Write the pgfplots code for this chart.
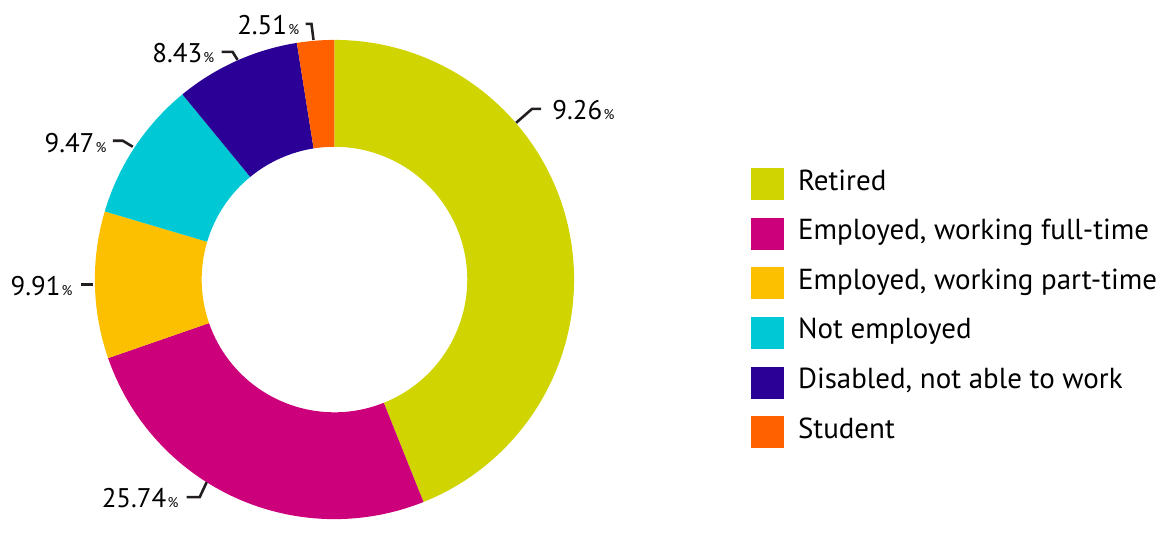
\documentclass[border=0pt]{standalone}
\usepackage{pgfplots}
\pgfplotsset{compat=1.18}
\usepackage{pgfplotstable}
\usepackage{fontspec}
\setmainfont{PT Sans}

\definecolor{cRet}{RGB}{208,212,0}
\definecolor{cFull}{RGB}{204,0,122}
\definecolor{cPart}{RGB}{253,192,0}
\definecolor{cNot}{RGB}{0,200,212}
\definecolor{cDis}{RGB}{42,0,150}
\definecolor{cStu}{RGB}{255,96,0}
\definecolor{ink}{RGB}{35,31,32}

% shares in percent, clockwise from 12 o'clock
\pgfplotstableread{
value color
43.94 cRet
25.74 cFull
9.91  cPart
9.47  cNot
8.43  cDis
2.51  cStu
}\shares

\newcommand{\pct}[1]{#1{\fontsize{7}{7}\selectfont\kern0.6pt\%}}

\begin{document}
\begin{tikzpicture}[font=\color{ink}]
\begin{axis}[
    x=0.5pt, y=0.5pt,
    xmin=0, xmax=1164, ymin=0, ymax=519,
    hide axis, clip=false,
    legend cell align=left,
    legend image code/.code={\path[#1] (0pt,-8pt) rectangle (16.5pt,8pt);},
    legend style={
        at={(axis cs:752,351)}, anchor=north west,
        draw=none, fill=none, inner sep=0pt,
        font=\fontsize{14.5}{14.5}\selectfont,
        row sep=8.85pt,
        nodes={inner ysep=0pt, inner xsep=3.5pt, text height=11pt, text depth=5pt},
        /tikz/every odd column/.append style={column sep=3.5pt},
    },
]
\path (axis cs:0,0) rectangle (axis cs:1164,519);
\coordinate (O) at (axis cs:335,239);

\def\cum{0}
\pgfplotsforeachungrouped \i in {0,...,5}{
    \pgfplotstablegetelem{\i}{value}\of\shares \let\v\pgfplotsretval
    \pgfplotstablegetelem{\i}{color}\of\shares \let\c\pgfplotsretval
    \pgfmathsetmacro{\a}{90-3.6*\cum}
    \pgfmathsetmacro{\b}{90-3.6*(\cum+\v)}
    \pgfmathsetmacro{\cum}{\cum+\v}
    \edef\slice{\noexpand\fill[\c] ([shift={(\a:120pt)}]O)
        arc[start angle=\a, end angle=\b, radius=120pt]
        -- ([shift={(\b:66.5pt)}]O)
        arc[start angle=\b, end angle=\a, radius=66.5pt] -- cycle;}
    \slice
}

\addlegendimage{fill=cRet, draw=none}\addlegendentry{Retired}
\addlegendimage{fill=cFull, draw=none}\addlegendentry{Employed, working full-time}
\addlegendimage{fill=cPart, draw=none}\addlegendentry{Employed, working part-time}
\addlegendimage{fill=cNot, draw=none}\addlegendentry{Not employed}
\addlegendimage{fill=cDis, draw=none}\addlegendentry{Disabled, not able to work}
\addlegendimage{fill=cStu, draw=none}\addlegendentry{Student}

% leader lines
\begin{scope}[draw=ink, line width=1.3pt]
\draw (axis cs:517,396) -- (axis cs:533,410) -- (axis cs:542,410);
\draw (axis cs:207,36) -- (axis cs:200,21) -- (axis cs:187,21);
\draw (axis cs:81,234) -- (axis cs:93,234);
\draw (axis cs:113,378) -- (axis cs:123,378) -- (axis cs:133,372);
\draw (axis cs:222,467) -- (axis cs:233,467) -- (axis cs:238,459);
\draw (axis cs:306,495) -- (axis cs:312,495) -- (axis cs:314,479);
\end{scope}

\begin{scope}[every node/.style={inner sep=0pt, font=\fontsize{13.5}{13.5}\selectfont}]
\node[anchor=base west] at (axis cs:553,399) {\pct{9.26}};
\node[anchor=base east] at (axis cs:179,11) {\pct{25.74}};
\node[anchor=base east] at (axis cs:73,223) {\pct{9.91}};
\node[anchor=base east] at (axis cs:107,366) {\pct{9.47}};
\node[anchor=base east] at (axis cs:215,456) {\pct{8.43}};
\node[anchor=base east] at (axis cs:300,484) {\pct{2.51}};
\end{scope}
\end{axis}
\end{tikzpicture}
\end{document}
